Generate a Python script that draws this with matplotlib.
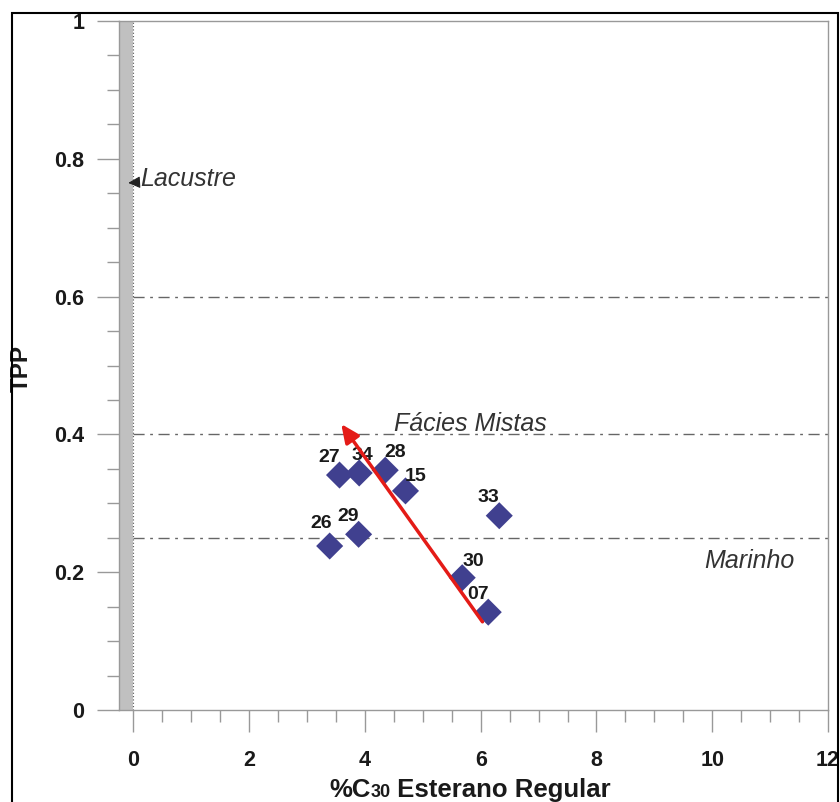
import matplotlib
matplotlib.use("Agg")
import matplotlib.pyplot as plt
from matplotlib.patches import Rectangle
from matplotlib.offsetbox import TextArea, HPacker, AnchoredOffsetbox
from matplotlib.ticker import MultipleLocator

# ---- data ----
sample_labels = ['27', '34', '28', '15', '33', '26', '29', '30', '07']
c30_regular = [3.56, 3.90, 4.35, 4.70, 6.32, 3.39, 3.89, 5.68, 6.13]
tpp = [0.341, 0.344, 0.348, 0.318, 0.282, 0.238, 0.255, 0.192, 0.142]
boundary_levels = [0.6, 0.4, 0.25]
trend_start = (6.03, 0.128)
trend_end = (3.59, 0.415)
x_ticks = [0, 2, 4, 6, 8, 10, 12]
y_ticks = [0, 0.2, 0.4, 0.6, 0.8, 1.0]
y_tick_labels = ['0', '0.2', '0.4', '0.6', '0.8', '1']

# layout for labels (pixel offsets from the marker)
label_offsets = [(-10, 18), (3, 17), (10, 18), (10, 14), (-11, 18),
                 (-8, 23), (-10, 18), (11, 16), (-10, 18)]

plt.rcParams['font.family'] = ['Liberation Sans', 'DejaVu Sans']

W, H = 840, 802
fig = plt.figure(figsize=(W / 100, H / 100), dpi=100)
ax = fig.add_axes([119 / W, 1 - 710 / H, (828 - 119) / W, (710 - 21) / H])

ax.set_xlim(-0.25, 12)
ax.set_ylim(0, 1)

# gray lacustrine band
ax.axvspan(-0.25, 0, color='#c0c0c0', lw=0, zorder=1)
ax.axvline(0, color='#555555', lw=0.8, ls=(0, (1, 2)), zorder=2)

for lvl in boundary_levels:
    ax.plot([0, 12], [lvl, lvl], color='#666666', lw=1.0,
            ls=(0, (8, 4, 2, 4)), zorder=2)

ax.scatter(c30_regular, tpp, marker='D', s=190, color='#40408f',
           edgecolors='none', zorder=4)
for lab, x, y, off in zip(sample_labels, c30_regular, tpp, label_offsets):
    ax.annotate(lab, (x, y), xytext=off, textcoords='offset pixels',
                ha='center', va='center', fontsize=14, fontweight='bold',
                color='#1a1a1a', zorder=5)

ax.annotate('', xy=trend_end, xytext=trend_start,
            arrowprops=dict(arrowstyle='-|>,head_length=1.1,head_width=0.5',
                            color='#e41b17', lw=2.5, shrinkA=0, shrinkB=0),
            zorder=6)

ax.annotate('Lacustre', xy=(-0.09, 0.765), xytext=(0.12, 0.77),
            fontsize=18, style='italic', color='#333333', va='center', ha='left',
            arrowprops=dict(arrowstyle='-|>,head_length=0.4,head_width=0.2',
                            color='#222222', lw=0.8, shrinkA=0, shrinkB=0))
ax.text(5.82, 0.415, 'Fácies Mistas', fontsize=18, style='italic',
        color='#333333', ha='center', va='center')
ax.text(10.64, 0.216, 'Marinho', fontsize=18, style='italic',
        color='#333333', ha='center', va='center')

# axes styling
for sp in ax.spines.values():
    sp.set_color('#999999')
    sp.set_linewidth(1.0)

ax.xaxis.set_minor_locator(MultipleLocator(0.5))
ax.yaxis.set_minor_locator(MultipleLocator(0.05))
ax.set_yticks(y_ticks)
ax.set_yticklabels(y_tick_labels)
ax.set_xticks(x_ticks)

ax.tick_params(which='major', length=16, width=1, color='#999999',
               labelsize=15.5, labelcolor='#1a1a1a')
ax.tick_params(axis='x', which='major', pad=13)
ax.tick_params(axis='y', which='major', pad=9)
ax.tick_params(which='minor', length=8.5, width=1, color='#999999')
for t in ax.get_xticklabels() + ax.get_yticklabels():
    t.set_fontweight('bold')

ax.set_ylabel('TPP', fontsize=17.5, fontweight='bold', color='#1a1a1a',
              va='center')
ax.yaxis.set_label_coords(-(119 - 21) / (828 - 119), (710 - 368) / (710 - 21))

# x label with smaller "30"
tp = dict(fontweight='bold', color='#1a1a1a')
ta1 = TextArea('%C', textprops=dict(fontsize=18.5, **tp))
ta2 = TextArea('30', textprops=dict(fontsize=13, **tp))
ta3 = TextArea(' Esterano Regular', textprops=dict(fontsize=18.5, **tp))
pack = HPacker(children=[ta1, ta2, ta3], align='baseline', pad=0, sep=0)
ab = AnchoredOffsetbox(loc='center', child=pack, frameon=False,
                       bbox_to_anchor=(470 / W, 1 - 790 / H),
                       bbox_transform=fig.transFigure, borderpad=0, pad=0)
fig.add_artist(ab)

# outer figure border
fig.add_artist(Rectangle((12 / W, -0.01), (838 - 12) / W, 1 - 13 / H + 0.01,
                         transform=fig.transFigure, fill=False,
                         edgecolor='black', lw=1.5))

fig.savefig('out.png', dpi=100)
